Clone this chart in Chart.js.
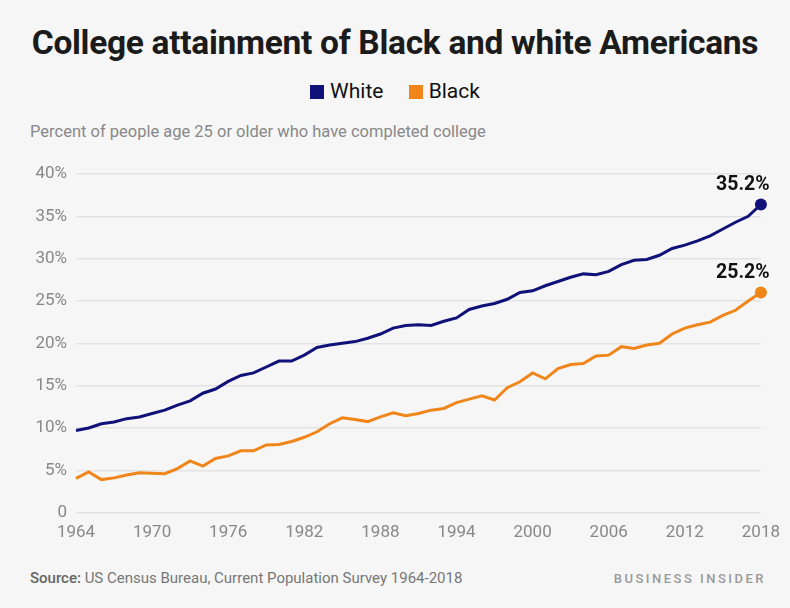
<!DOCTYPE html>
<html>
<head>
<meta charset="utf-8">
<script src="https://cdn.jsdelivr.net/npm/chart.js@4"></script>
<style>
  body { margin: 0; background: #f6f6f6; font-family: Roboto, sans-serif; }
  .page { position: relative; width: 790px; height: 608px; overflow: hidden; }
  .title { position: absolute; top: 23px; left: 0; width: 790px; text-align: center;
           font-size: 33.5px; font-weight: 700; color: #1b1b1b; letter-spacing: -0.3px; }
  .legend { position: absolute; top: 79px; left: 0; width: 790px; text-align: center;
            font-size: 21px; color: #111; }
  .legend span.item { margin: 0 10px; }
  .legend i { display: inline-block; width: 14px; height: 14px; margin-right: 6px; vertical-align: -1px; }
  .subtitle { position: absolute; top: 122px; left: 30px; font-size: 16.5px; color: #888; }
  .source { position: absolute; top: 569px; left: 30px; font-size: 15px; color: #777; }
  .source b { font-weight: 500; color: #666; }
  .brand { position: absolute; top: 571px; right: 24px; font-size: 13px; color: #9a9a9a;
           letter-spacing: 2.5px; font-weight: 500; }
  #chart { position: absolute; left: 0; top: 150px; }
</style>
</head>
<body>
<div class="page">
  <div class="title">College attainment of Black and white Americans</div>
  <div class="legend">
    <span class="item"><i style="background:#11117a"></i>White</span>
    <span class="item"><i style="background:#f0861a"></i>Black</span>
  </div>
  <div class="subtitle">Percent of people age 25 or older who have completed college</div>
  <canvas id="chart" width="790" height="410"></canvas>
  <div class="source"><b>Source:</b> US Census Bureau, Current Population Survey 1964-2018</div>
  <div class="brand">BUSINESS INSIDER</div>
</div>
<script>
// years 1964 - 2018
const years = [];
for (let y = 1964; y <= 2018; y++) years.push(y);

const white = [9.7, 10.0, 10.5, 10.7, 11.1, 11.3, 11.7, 12.1, 12.7, 13.2,
  14.1, 14.6, 15.5, 16.2, 16.5, 17.2, 17.9, 17.9, 18.6, 19.5,
  19.8, 20.0, 20.2, 20.6, 21.1, 21.8, 22.1, 22.2, 22.1, 22.6,
  23.0, 24.0, 24.4, 24.7, 25.2, 26.0, 26.2, 26.8, 27.3, 27.8,
  28.2, 28.1, 28.5, 29.3, 29.8, 29.9, 30.4, 31.2, 31.6, 32.1,
  32.7, 33.5, 34.3, 35.0, 36.4];

const black = [4.05, 4.8, 3.9, 4.1, 4.45, 4.7, 4.65, 4.6, 5.2, 6.1,
  5.5, 6.4, 6.7, 7.3, 7.3, 8.0, 8.05, 8.4, 8.9, 9.55,
  10.5, 11.2, 11.0, 10.75, 11.3, 11.8, 11.45, 11.7, 12.1, 12.3,
  13.0, 13.4, 13.8, 13.3, 14.75, 15.45, 16.5, 15.8, 17.0, 17.5,
  17.6, 18.5, 18.6, 19.6, 19.4, 19.8, 20.0, 21.1, 21.8, 22.2,
  22.5, 23.3, 23.9, 25.0, 26.0];

const xTicks = [1964, 1970, 1976, 1982, 1988, 1994, 2000, 2006, 2012, 2018];
const yTicks = [0, 5, 10, 15, 20, 25, 30, 35, 40];
const endLabels = ['35.2%', '25.2%'];

function toPoints(vals) {
  return vals.map((v, i) => ({ x: years[i], y: v }));
}
function lastDot(vals, r) {
  return vals.map((v, i) => i === vals.length - 1 ? r : 0);
}

const endLabelPlugin = {
  id: 'endLabels',
  afterDatasetsDraw(chart) {
    const ctx = chart.ctx;
    ctx.save();
    ctx.font = '700 19.5px Roboto';
    ctx.fillStyle = '#111';
    ctx.textAlign = 'center';
    ctx.textBaseline = 'middle';
    chart.data.datasets.forEach((ds, i) => {
      const meta = chart.getDatasetMeta(i);
      const pt = meta.data[meta.data.length - 1];
      ctx.fillText(endLabels[i], pt.x - 18, pt.y - 19);
    });
    ctx.restore();
  }
};

new Chart(document.getElementById('chart').getContext('2d'), {
  type: 'line',
  data: {
    datasets: [
      {
        label: 'White',
        data: toPoints(white),
        borderColor: '#11117a',
        backgroundColor: '#11117a',
        borderWidth: 3,
        pointRadius: lastDot(white, 6),
        pointBorderWidth: 0,
        tension: 0,
        clip: false
      },
      {
        label: 'Black',
        data: toPoints(black),
        borderColor: '#f0861a',
        backgroundColor: '#f0861a',
        borderWidth: 3,
        pointRadius: lastDot(black, 6),
        pointBorderWidth: 0,
        tension: 0,
        clip: false
      }
    ]
  },
  options: {
    responsive: false,
    animation: false,
    layout: { padding: { top: 24, right: 24, bottom: 7, left: 0 } },
    plugins: {
      legend: { display: false },
      tooltip: { enabled: false }
    },
    scales: {
      x: {
        type: 'linear',
        min: 1964,
        max: 2018,
        afterBuildTicks: (scale) => { scale.ticks = xTicks.map(v => ({ value: v })); },
        grid: { display: false, drawTicks: false },
        border: { display: false },
        ticks: {
          padding: 10,
          color: '#888',
          font: { family: 'Roboto', size: 17 },
          maxRotation: 0,
          autoSkip: false,
          callback: (v) => String(v)
        }
      },
      y: {
        min: 0,
        max: 40,
        afterBuildTicks: (scale) => { scale.ticks = yTicks.map(v => ({ value: v })); },
        afterFit: (scale) => { scale.width = 76; },
        grid: { color: '#e3e3e3', lineWidth: 1.5, drawTicks: false },
        border: { display: false },
        ticks: {
          padding: 9,
          color: '#888',
          font: { family: 'Roboto', size: 17 },
          callback: (v) => v === 0 ? '0' : v + '%'
        }
      }
    }
  },
  plugins: [endLabelPlugin]
});
</script>
</body>
</html>
